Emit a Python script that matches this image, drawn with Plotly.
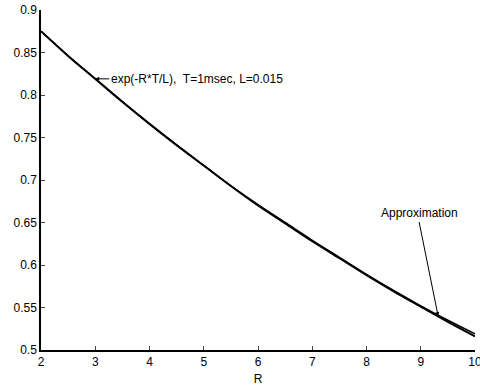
import plotly.graph_objects as go

# Resistance values (ohm) and the decay factor exp(-R*T/L)
r_values = [2, 2.5, 3, 3.5, 4, 4.5, 5, 5.5, 6, 6.5, 7, 7.5, 8, 8.5, 9, 9.5, 10]
exact_factor = [0.875, 0.846, 0.819, 0.792, 0.766, 0.741, 0.717, 0.693, 0.670,
                0.649, 0.628, 0.608, 0.588, 0.569, 0.551, 0.533, 0.516]
approx_factor = [0.875, 0.846, 0.819, 0.792, 0.766, 0.741, 0.717, 0.693, 0.671,
                 0.650, 0.629, 0.609, 0.589, 0.570, 0.552, 0.535, 0.519]

x_ticks = [2, 3, 4, 5, 6, 7, 8, 9, 10]
y_ticks = [0.5, 0.55, 0.6, 0.65, 0.7, 0.75, 0.8, 0.85, 0.9]
y_tick_text = ["0.5", "0.55", "0.6", "0.65", "0.7", "0.75", "0.8", "0.85", "0.9"]

font_family = "Liberation Sans, Arial, sans-serif"

fig = go.Figure()
fig.add_trace(go.Scatter(x=r_values, y=exact_factor, mode="lines",
                         line=dict(color="black", width=2, shape="spline"),
                         showlegend=False))
fig.add_trace(go.Scatter(x=r_values, y=approx_factor, mode="lines",
                         line=dict(color="black", width=1.5, shape="spline"),
                         showlegend=False))

# Label for the exact curve, arrow pointing at R=3
fig.add_annotation(x=3, y=exact_factor[2], xref="x", yref="y",
                   text="exp(-R*T/L),  T=1msec, L=0.015",
                   showarrow=True, arrowhead=2, arrowsize=0.8, arrowwidth=1,
                   arrowcolor="black", ax=14, ay=0, xanchor="left",
                   font=dict(family=font_family, size=12, color="black"))

# Label for the approximation, arrow pointing near R=9.3
fig.add_annotation(x=9.32, y=0.540, xref="x", yref="y",
                   text="Approximation",
                   showarrow=True, arrowhead=2, arrowsize=0.8, arrowwidth=1,
                   arrowcolor="black", ax=-19, ay=-94, yanchor="bottom",
                   font=dict(family=font_family, size=12, color="black"))

fig.update_layout(
    width=480, height=387,
    margin=dict(l=41, r=5, t=10, b=37),
    paper_bgcolor="white", plot_bgcolor="white",
    font=dict(family=font_family, size=12, color="black"),
    xaxis=dict(range=[2, 10], tickvals=x_ticks, ticks="inside", ticklen=4,
               showline=True, linecolor="black", linewidth=1.5,
               showgrid=False, zeroline=False, ticklabeloverflow="allow",
               automargin=False,
               title=dict(text="R", standoff=6, font=dict(size=12)),
               tickfont=dict(size=12)),
    yaxis=dict(range=[0.5, 0.9], tickvals=y_ticks, ticktext=y_tick_text,
               ticks="inside", ticklen=4,
               showline=True, linecolor="black", linewidth=1.5,
               showgrid=False, zeroline=False, ticklabeloverflow="allow",
               automargin=False, tickfont=dict(size=12)),
)

fig.write_html("out.html")
